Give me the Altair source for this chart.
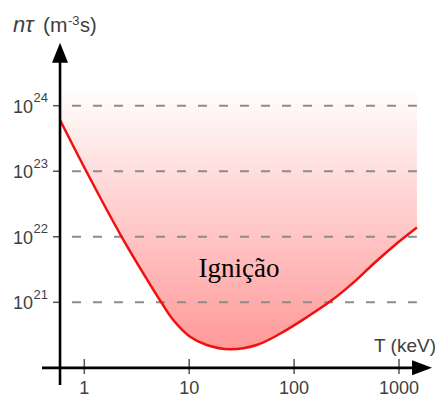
import altair as alt
import pandas as pd

# --- data ---
T_keV = [0.587, 1.045, 2.27, 4.05, 5.42, 7.05, 10.2, 14.7, 24.4, 44, 73.4, 132, 228, 367, 569, 916, 1483]
n_tau = [6.05e23, 1e23, 1e22, 2.11e21, 1e21, 5.37e20, 2.98e20, 2.23e20, 1.92e20, 2.23e20,
         3.31e20, 5.9e20, 1.07e21, 2.0e21, 3.84e21, 7.48e21, 1.38e22]
x_ticks = [1, 10, 100, 1000]
x_tick_labels = ["1", "10", "100", "1000"]
y_ticks = [1e21, 1e22, 1e23, 1e24]
y_tick_exp = ["21", "22", "23", "24"]

FILL_TOP = 10 ** 24.3
AXIS_T = 0.587          # where the vertical axis crosses
AXIS_NT = 1e20          # where the horizontal axis crosses

W, H = 429, 391
xs = alt.Scale(type="log", domain=[0.18735, 2303], nice=False)
ys = alt.Scale(type="log", domain=[10 ** 19.5243, 10 ** 25.491], nice=False)

curve = pd.DataFrame({"T": T_keV, "nt": n_tau, "top": [FILL_TOP] * len(T_keV)})

X = lambda f: alt.X(f, type="quantitative", scale=xs, axis=None)
Y = lambda f: alt.Y(f, type="quantitative", scale=ys, axis=None)

area = alt.Chart(curve).mark_area(
    interpolate="catmull-rom",
    color=alt.Gradient(gradient="linear",
                       stops=[alt.GradientStop(color="#ff9999", offset=0),
                              alt.GradientStop(color="#ffffff", offset=1)],
                       x1=0, x2=0, y1=1, y2=0)
).encode(x=X("T"), y=Y("nt"), y2="top")

grid_df = pd.DataFrame({"y": y_ticks, "x1": [0.763] * 4, "x2": [1480] * 4})
grid = alt.Chart(grid_df).mark_rule(color="#8c8c8c", strokeWidth=2, strokeDash=[9, 12]).encode(
    x=X("x1"), x2="x2", y=Y("y"))

line = alt.Chart(curve).mark_line(interpolate="catmull-rom", color="#f01010", strokeWidth=2.5).encode(
    x=X("T"), y=Y("nt"))

vaxis = alt.Chart(pd.DataFrame({"x": [AXIS_T], "y1": [10 ** 19.738], "y2": [10 ** 24.85]})).mark_rule(
    color="black", strokeWidth=2.6).encode(x=X("x"), y=Y("y1"), y2="y2")
haxis = alt.Chart(pd.DataFrame({"y": [AXIS_NT], "x1": [0.395], "x2": [1500]})).mark_rule(
    color="black", strokeWidth=2.6).encode(y=Y("y"), x=X("x1"), x2="x2")

yt = alt.Chart(pd.DataFrame({"y": y_ticks, "x1": [0.503] * 4, "x2": [AXIS_T] * 4})).mark_rule(
    color="#555555", strokeWidth=1.5).encode(y=Y("y"), x=X("x1"), x2="x2")
xt = alt.Chart(pd.DataFrame({"x": x_ticks, "y1": [10 ** 19.906] * 4, "y2": [10 ** 20.135] * 4})).mark_rule(
    color="#555555", strokeWidth=1.5).encode(x=X("x"), y=Y("y1"), y2="y2")

up_arrow = alt.Chart(pd.DataFrame({"x": [AXIS_T], "y": [10 ** 24.81]})).mark_point(
    shape="M0,-1L0.8,1L-0.8,1Z", size=400, filled=True, color="black", opacity=1).encode(
    x=X("x"), y=Y("y"))
right_arrow = alt.Chart(pd.DataFrame({"x": [10 ** 3.2197], "y": [AXIS_NT]})).mark_point(
    shape="M1,0L-1,0.75L-1,-0.75Z", size=400, filled=True, color="black", opacity=1).encode(
    x=X("x"), y=Y("y"))

FONT = "Liberation Sans"
xlab = alt.Chart(pd.DataFrame({"x": x_ticks, "t": x_tick_labels})).mark_text(
    font=FONT, fontSize=18, color="#404040", align="center", baseline="alphabetic").encode(
    x=X("x"), y=alt.value(386), text="t:N")
ylab = alt.Chart(pd.DataFrame({"y": y_ticks, "t": ["10"] * 4})).mark_text(
    font=FONT, fontSize=18, color="#404040", align="right", baseline="alphabetic", dy=7).encode(
    y=Y("y"), x=alt.value(25), text="t:N")
yexp = alt.Chart(pd.DataFrame({"y": y_ticks, "t": y_tick_exp})).mark_text(
    font=FONT, fontSize=13, color="#404040", align="left", baseline="alphabetic", dy=-3.5).encode(
    y=Y("y"), x=alt.value(25.5), text="t:N")

def label(txt, x, y, size=18, **kw):
    return alt.Chart(pd.DataFrame({"t": [txt]})).mark_text(
        font=kw.pop("font", FONT), fontSize=size, color=kw.pop("color", "#404040"),
        align=kw.pop("align", "left"), baseline="alphabetic", **kw).encode(
        x=alt.value(x), y=alt.value(y), text="t:N")

xtitle = label("T (keV)", 428, 344, 19, align="right")
t1 = label("nτ", 5, 24, 22, fontStyle="italic")
t2 = label("(m", 35, 24, 21)
t3 = label("-3", 60, 17, 13)
t4 = label("s)", 72, 24, 20)
ign = label("Ignição", 231, 269, 27, font="Liberation Serif", color="black", align="center")

chart = alt.layer(area, grid, line, yt, xt, vaxis, haxis, up_arrow, right_arrow,
                  xlab, ylab, yexp, xtitle, t1, t2, t3, t4, ign).properties(
    width=W, height=H, padding=0, autosize=alt.AutoSizeParams(type="none")
).configure_view(stroke=None)

chart.save("out.html", embed_options={"renderer": "svg", "actions": False})
